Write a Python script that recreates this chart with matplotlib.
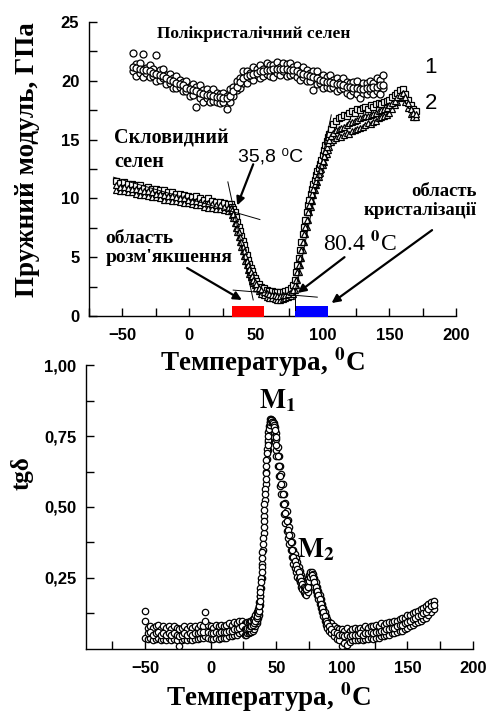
import matplotlib
matplotlib.use("Agg")
import matplotlib.pyplot as plt

# ---- top panel: elastic modulus, GPa ----
# curve 1, polycrystalline selenium
s1_t = [-42, -39.5, -37, -34.5, -32, -29.5, -27, -24.5, -22, -19.5,
        -17, -14.5, -12, -9.5, -7, -4.5, -2, 0.5, 3, 5.5,
        8, 10.5, 13, 15.5, 18, 20.5, 23, 25.5, 28, 30.5,
        33, 35.5, 38, 40.5, 43, 45.5, 48, 50.5, 53, 55.5,
        58, 60.5, 63, 65.5, 68, 70.5, 73, 75.5, 78, 80.5,
        83, 85.5, 88, 90.5, 93, 95.5, 98, 100.5, 103, 105.5,
        108, 110.5, 113, 115.5, 118, 120.5, 123, 125.5, 128, 130.5,
        133, 135.5, 138, 140.5, 143, 145.5]
s1_mid = [21.2, 21.1, 21.0, 20.9, 20.9, 20.8, 20.7, 20.6, 20.5, 20.4,
          20.2, 20.1, 20.0, 19.8, 19.7, 19.6, 19.4, 19.3, 19.2, 19.1,
          19.0, 18.9, 18.8, 18.8, 18.7, 18.6, 18.6, 18.5, 18.5, 18.7,
          19.1, 19.5, 19.9, 20.2, 20.4, 20.5, 20.6, 20.7, 20.8, 20.8,
          20.9, 20.9, 21.0, 21.0, 21.0, 21.0, 21.0, 20.9, 20.9, 20.8,
          20.7, 20.6, 20.5, 20.4, 20.3, 20.2, 20.1, 20.0, 19.9, 19.9,
          19.8, 19.7, 19.7, 19.6, 19.5, 19.5, 19.4, 19.4, 19.3, 19.3,
          19.4, 19.4, 19.5, 19.5, 19.6, 19.6]
s1_hi = [22.4, 21.4, 21.5, 22.3, 21.1, 21.3, 21.0, 22.2, 20.9, 21.0,
         20.5, 20.6, 20.2, 20.4, 20.1, 19.9, 20.0, 19.5, 19.7, 19.5,
         19.6, 19.2, 19.3, 19.0, 19.3, 19.0, 18.9, 19.0, 18.7, 19.3,
         19.5, 20.0, 20.2, 20.8, 20.8, 20.7, 21.2, 21.0, 21.3, 21.0,
         21.5, 21.3, 21.3, 21.6, 21.2, 21.5, 21.4, 21.5, 21.2, 21.3,
         20.9, 21.2, 20.9, 20.7, 20.8, 20.8, 20.3, 20.5, 20.3, 20.5,
         20.1, 20.2, 19.9, 20.2, 19.9, 19.8, 19.9, 20.0, 19.5, 19.8,
         19.8, 20.0, 19.8, 20.2, 20.1, 20.5]
s1_lo = [20.8, 20.4, 20.7, 20.3, 20.7, 20.3, 20.4, 20.0, 20.1, 20.2,
         19.7, 19.8, 19.4, 19.4, 19.5, 19.1, 19.1, 18.7, 18.8, 17.8,
         18.5, 18.2, 18.5, 18.2, 18.3, 18.2, 18.1, 18.2, 17.6, 18.2,
         18.7, 19.2, 19.4, 19.8, 19.8, 20.2, 20.1, 20.5, 20.2, 20.4,
         20.6, 20.4, 20.3, 20.7, 20.5, 20.8, 20.4, 20.5, 20.6, 20.3,
         20.1, 20.3, 20.0, 20.0, 19.2, 19.7, 19.8, 19.4, 19.5, 19.4,
         19.5, 19.1, 19.3, 19.4, 19.0, 18.8, 19.1, 18.9, 18.5, 19.0,
         18.9, 19.1, 18.9, 19.1, 18.9, 19.4]

# curve 2, glassy selenium
s2_t = [-55, -52, -49, -46, -43, -40, -37, -34, -31, -28,
        -25, -22, -19, -16, -13, -10, -7, -4, -1, 2,
        5, 8, 11, 14, 17, 20, 23, 26, 29,
        31, 32, 33, 34, 35, 36, 37, 38, 39, 40,
        41, 42, 43, 44, 45, 46, 47, 48, 49, 50,
        52, 54, 56, 58, 60, 62, 64, 66, 68, 70, 72, 74, 76,
        78, 79, 80, 81, 82, 83, 84, 85, 86, 87,
        88, 89, 90, 91, 92, 93, 94, 95, 96, 97,
        98, 99, 100, 101, 102, 103, 104, 105,
        106, 108, 110, 112, 114, 116, 118, 120, 122, 124,
        126, 128, 130, 132, 134, 136, 138, 140, 142, 144,
        146, 148, 150, 152, 154, 156, 158, 160, 162, 164,
        166, 168, 170]
s2_mid = [11.1, 11.0, 11.0, 10.9, 10.8, 10.8, 10.7, 10.6, 10.6, 10.5,
          10.4, 10.4, 10.3, 10.2, 10.2, 10.1, 10.0, 10.0, 9.9, 9.8,
          9.8, 9.7, 9.6, 9.6, 9.5, 9.4, 9.4, 9.3, 9.2,
          9.2, 9.0, 8.7, 8.3, 7.9, 7.5, 7.1, 6.7, 6.3, 5.9,
          5.5, 5.1, 4.7, 4.3, 4.0, 3.7, 3.4, 3.1, 2.9, 2.7,
          2.4, 2.2, 2.05, 1.95, 1.85, 1.8, 1.75, 1.7, 1.7, 1.75, 1.8, 1.9, 2.0,
          2.2, 2.6, 3.1, 3.7, 4.3, 4.9, 5.6, 6.3, 7.0, 7.6,
          8.2, 8.8, 9.4, 9.9, 10.4, 10.8, 11.2, 11.5, 11.8, 12.1,
          12.4, 12.8, 13.2, 13.6, 14.0, 14.4, 14.7, 15.0,
          15.3, 15.6, 15.8, 15.9, 16.0, 16.1, 16.2, 16.4, 16.5, 16.6,
          16.7, 16.8, 16.9, 17.0, 17.0, 17.1, 17.2, 17.3, 17.4, 17.5,
          17.6, 17.7, 17.9, 18.1, 18.3, 18.6, 18.8, 19.0, 18.6, 18.1,
          17.6, 17.3, 17.2]
s2_hi = [11.5, 11.3, 11.4, 11.2, 11.2, 11.1, 11.1, 10.9, 11.0, 10.8,
         10.8, 10.7, 10.7, 10.5, 10.5, 10.4, 10.4, 10.3, 10.2, 10.1,
         10.2, 10.0, 9.9, 10.0, 9.8, 9.7, 9.7, 9.6, 9.5,
         9.5, 9.3, 9.1, 8.8, 8.4, 8.0, 7.6, 7.2, 6.8, 6.4,
         6.0, 5.6, 5.2, 4.8, 4.4, 4.1, 3.8, 3.5, 3.2, 3.0,
         2.7, 2.5, 2.35, 2.25, 2.15, 2.1, 2.05, 2.0, 2.0, 2.05, 2.1, 2.2, 2.35,
         2.6, 3.1, 3.7, 4.3, 4.9, 5.6, 6.3, 7.0, 7.6, 8.2,
         8.8, 9.4, 9.9, 10.4, 10.8, 11.2, 11.6, 12.0, 12.3, 12.6,
         12.9, 13.3, 13.7, 14.1, 14.5, 14.9, 15.2, 15.5,
         15.9, 16.3, 16.6, 16.8, 16.9, 17.1, 17.0, 17.3, 17.4, 17.3,
         17.6, 17.5, 17.7, 17.8, 17.6, 17.9, 17.8, 18.0, 18.1, 18.0,
         18.2, 18.3, 18.4, 18.6, 18.8, 19.0, 19.2, 19.3, 18.9, 18.4,
         17.9, 17.6, 17.4]
s2_lo = [10.7, 10.6, 10.6, 10.5, 10.5, 10.4, 10.3, 10.3, 10.2, 10.1,
         10.1, 10.0, 9.9, 9.9, 9.8, 9.8, 9.7, 9.6, 9.6, 9.5,
         9.4, 9.4, 9.3, 9.2, 9.2, 9.1, 9.1, 9.0, 8.9,
         8.9, 8.6, 8.3, 7.9, 7.5, 7.1, 6.7, 6.3, 5.9, 5.5,
         5.1, 4.7, 4.3, 3.9, 3.6, 3.3, 3.0, 2.8, 2.6, 2.4,
         2.1, 1.9, 1.75, 1.65, 1.55, 1.5, 1.45, 1.4, 1.4, 1.45, 1.5, 1.6, 1.7,
         1.9, 2.2, 2.6, 3.1, 3.7, 4.3, 4.9, 5.6, 6.3, 7.0,
         7.6, 8.2, 8.8, 9.3, 9.8, 10.3, 10.7, 11.1, 11.4, 11.8,
         12.2, 12.5, 12.8, 13.1, 13.5, 13.8, 14.1, 14.4,
         14.8, 15.0, 15.1, 15.3, 15.2, 15.4, 15.6, 15.5, 15.7, 15.8,
         15.9, 16.0, 16.1, 16.2, 16.4, 16.3, 16.5, 16.6, 16.8, 16.9,
         17.0, 17.1, 17.3, 17.6, 17.9, 18.2, 18.5, 18.6, 18.2, 17.7,
         17.2, 16.9, 16.9]

# tangent lines
tan_x = [[-56.7, 53], [29, 48], [33, 96], [106.5, 79.1], [79.1, 79.1]]
tan_y = [[11.8, 8.2], [11.4, 1.36], [2.2, 1.6], [17.1, 1.9], [1.9, 0.5]]

# softening / crystallisation zones
zone_start = [32, 79]
zone_end = [56, 104]
zone_colors = ['#ff0000', '#0000ff']

# ---- bottom panel: tg delta ----
s3_t = [-50, -48, -46, -44, -42, -40, -38, -36, -34, -32,
        -30, -28, -26, -24, -22, -20, -18, -16, -14, -12,
        -10, -8, -6, -4, -2, 0, 2, 4, 6, 8,
        10, 12, 14, 16, 18, 20, 22, 24,
        26, 27, 28, 29, 30, 31, 32, 33, 34, 35,
        35.5, 36, 36.5, 37, 37.5, 38, 38.5, 39, 39.5, 40,
        40.5, 41, 41.5, 42, 42.5, 43, 43.5, 44, 44.5, 45,
        45.5, 46, 46.5, 47, 47.5, 48, 48.5, 49, 49.5, 50,
        51, 52, 53, 54, 55, 56, 57, 58, 59, 60,
        61, 62, 63, 64, 65, 66, 67, 68, 69, 70,
        71, 72, 73, 74, 75, 76, 77, 78, 79, 80,
        81, 82, 83, 84, 85, 86, 87, 88, 89, 90,
        92, 94, 96, 98, 100, 102, 104, 106, 108, 110,
        112, 114, 116, 118, 120, 122, 124, 126, 128, 130,
        132, 134, 136, 138, 140, 142, 144, 146, 148, 150,
        152, 154, 156, 158, 160, 162, 164, 166, 168, 170]
s3_mid = [0.10, 0.055, 0.06, 0.05, 0.055, 0.06, 0.05, 0.055, 0.05, 0.055,
          0.05, 0.055, 0.05, 0.045, 0.05, 0.055, 0.05, 0.055, 0.05, 0.055,
          0.055, 0.06, 0.06, 0.10, 0.06, 0.055, 0.055, 0.06, 0.055, 0.06,
          0.06, 0.06, 0.065, 0.065, 0.07, 0.07, 0.075, 0.08,
          0.07, 0.07, 0.075, 0.075, 0.08, 0.08, 0.085, 0.09, 0.10, 0.11,
          0.115, 0.125, 0.135, 0.15, 0.17, 0.20, 0.235, 0.27, 0.32, 0.37,
          0.43, 0.49, 0.545, 0.60, 0.645, 0.69, 0.72, 0.75, 0.775, 0.79,
          0.80, 0.805, 0.80, 0.80, 0.795, 0.79, 0.78, 0.77, 0.745, 0.72,
          0.68, 0.645, 0.61, 0.58, 0.545, 0.51, 0.48, 0.45, 0.42, 0.40,
          0.375, 0.35, 0.325, 0.31, 0.295, 0.28, 0.27, 0.255, 0.24, 0.23,
          0.22, 0.215, 0.21, 0.22, 0.24, 0.255, 0.26, 0.25, 0.235, 0.22,
          0.205, 0.19, 0.175, 0.16, 0.145, 0.13, 0.115, 0.10, 0.09, 0.08,
          0.07, 0.06, 0.055, 0.05, 0.05, 0.045, 0.05, 0.045, 0.05, 0.05,
          0.05, 0.055, 0.05, 0.055, 0.055, 0.06, 0.055, 0.06, 0.06, 0.065,
          0.065, 0.07, 0.07, 0.075, 0.075, 0.08, 0.085, 0.085, 0.09, 0.095,
          0.10, 0.105, 0.11, 0.115, 0.12, 0.125, 0.13, 0.14, 0.15, 0.155]
s3_hi = [0.135, 0.075, 0.08, 0.075, 0.08, 0.085, 0.07, 0.08, 0.075, 0.08,
         0.07, 0.08, 0.075, 0.07, 0.075, 0.08, 0.07, 0.08, 0.075, 0.08,
         0.075, 0.085, 0.08, 0.13, 0.085, 0.08, 0.075, 0.085, 0.08, 0.085,
         0.08, 0.085, 0.09, 0.085, 0.095, 0.09, 0.10, 0.10,
         0.09, 0.09, 0.095, 0.095, 0.10, 0.10, 0.105, 0.11, 0.12, 0.13,
         0.13, 0.14, 0.15, 0.165, 0.185, 0.215, 0.25, 0.29, 0.34, 0.39,
         0.45, 0.51, 0.565, 0.62, 0.665, 0.705, 0.735, 0.765, 0.785, 0.80,
         0.81, 0.81, 0.805, 0.805, 0.80, 0.795, 0.79, 0.78, 0.76, 0.74,
         0.71, 0.68, 0.645, 0.615, 0.58, 0.545, 0.515, 0.485, 0.455, 0.43,
         0.40, 0.375, 0.35, 0.335, 0.32, 0.305, 0.29, 0.275, 0.26, 0.25,
         0.24, 0.235, 0.235, 0.245, 0.26, 0.27, 0.27, 0.265, 0.25, 0.235,
         0.22, 0.205, 0.19, 0.175, 0.16, 0.145, 0.13, 0.115, 0.105, 0.095,
         0.09, 0.08, 0.075, 0.07, 0.07, 0.065, 0.075, 0.065, 0.07, 0.075,
         0.07, 0.075, 0.07, 0.08, 0.075, 0.08, 0.08, 0.085, 0.08, 0.09,
         0.085, 0.09, 0.095, 0.095, 0.10, 0.10, 0.105, 0.11, 0.11, 0.12,
         0.12, 0.125, 0.13, 0.135, 0.14, 0.145, 0.15, 0.16, 0.165, 0.17]
s3_lo = [0.04, 0.035, 0.04, 0.03, 0.035, 0.04, 0.03, 0.035, 0.03, 0.04,
         0.03, 0.035, 0.03, 0.01, 0.03, 0.035, 0.03, 0.035, 0.03, 0.035,
         0.035, 0.04, 0.04, 0.045, 0.04, 0.035, 0.035, 0.04, 0.035, 0.04,
         0.04, 0.04, 0.045, 0.045, 0.05, 0.05, 0.055, 0.06,
         0.05, 0.05, 0.055, 0.055, 0.06, 0.06, 0.065, 0.07, 0.08, 0.09,
         0.10, 0.11, 0.12, 0.135, 0.155, 0.185, 0.215, 0.25, 0.30, 0.35,
         0.41, 0.47, 0.525, 0.58, 0.625, 0.67, 0.70, 0.73, 0.755, 0.77,
         0.785, 0.79, 0.785, 0.78, 0.77, 0.76, 0.745, 0.73, 0.70, 0.68,
         0.645, 0.61, 0.575, 0.545, 0.51, 0.475, 0.445, 0.415, 0.39, 0.37,
         0.35, 0.325, 0.30, 0.285, 0.27, 0.255, 0.245, 0.235, 0.22, 0.21,
         0.20, 0.195, 0.19, 0.20, 0.22, 0.235, 0.245, 0.235, 0.22, 0.205,
         0.19, 0.175, 0.16, 0.145, 0.13, 0.115, 0.10, 0.085, 0.075, 0.065,
         0.055, 0.045, 0.035, 0.03, 0.01, 0.02, 0.015, 0.025, 0.03, 0.03,
         0.03, 0.035, 0.03, 0.035, 0.035, 0.04, 0.035, 0.04, 0.04, 0.045,
         0.045, 0.05, 0.05, 0.055, 0.055, 0.06, 0.065, 0.065, 0.07, 0.075,
         0.08, 0.085, 0.09, 0.095, 0.10, 0.105, 0.11, 0.12, 0.13, 0.14]

SERIF = ['Liberation Serif', 'DejaVu Serif']
SANS = ['Liberation Sans', 'DejaVu Sans']

plt.rcParams['font.family'] = SANS
plt.rcParams['font.weight'] = 'bold'

fig = plt.figure(figsize=(4.92, 7.16), dpi=100)
ax1 = fig.add_axes([0.181, 0.5587, 0.746, 0.4106])
ax2 = fig.add_axes([0.1748, 0.0936, 0.7866, 0.3966])


def style_axis(ax):
    for s in ['top', 'right']:
        ax.spines[s].set_visible(False)
    for s in ['left', 'bottom']:
        ax.spines[s].set_linewidth(1.0)
    ax.tick_params(which='both', direction='in', length=6, width=1.0,
                   labelsize=12)
    ax.tick_params(axis='x', which='both', pad=9)
    ax.tick_params(axis='y', which='both', pad=7)
    for lab in ax.get_xticklabels() + ax.get_yticklabels():
        lab.set_fontweight('bold')


mk1 = dict(ls='none', marker='o', ms=5, mfc='white', mec='black', mew=0.9)
mk2 = dict(ls='none', marker='^', ms=5, mfc='white', mec='black', mew=0.9)
mk2s = dict(ls='none', marker='s', ms=3.8, mfc='white', mec='black', mew=0.9)

# top panel
for i in range(len(zone_start)):
    ax1.bar(zone_start[i], 0.95, width=zone_end[i] - zone_start[i],
            bottom=-0.1, align='edge', color=zone_colors[i], zorder=4,
            clip_on=False)

ax1.plot(s1_t, s1_lo, **mk1)
ax1.plot(s1_t, s1_hi, **mk1)
ax1.plot(s1_t, s1_mid, **mk1)

ax1.plot(s2_t, s2_lo, **mk2)
ax1.plot(s2_t, s2_hi, **mk2s)
ax1.plot(s2_t, s2_mid, **mk2)

for xs, ys in zip(tan_x, tan_y):
    ax1.plot(xs, ys, color='black', lw=0.7, zorder=5)

ax1.set_xlim(-75, 200)
ax1.set_ylim(0, 25)
ax1.set_xticks([-50, 0, 50, 100, 150, 200])
ax1.set_xticks([-75, -25, 25, 75, 125, 175], minor=True)
ax1.set_yticks([0, 5, 10, 15, 20, 25])
ax1.set_yticks([2.5, 7.5, 12.5, 17.5, 22.5], minor=True)
style_axis(ax1)

ax1.text(-23.9, 24.0, 'Полікристалічний селен', family=SERIF,
         weight='bold', fontsize=12.5, ha='left', va='center')
ax1.text(181, 21.1, '1', family=SANS, weight='normal', fontsize=16,
         ha='center', va='center', clip_on=False)
ax1.text(181, 18.1, '2', family=SANS, weight='normal', fontsize=16,
         ha='center', va='center', clip_on=False)
ax1.text(-56, 14.1, 'Скловидний\nселен', family=SERIF, weight='bold',
         fontsize=14.5, ha='left', va='center', linespacing=1.25)
ax1.text(-62.7, 5.74, "область\nрозм'якшення", family=SERIF,
         weight='bold', fontsize=14, ha='left', va='center',
         linespacing=1.15, clip_on=False)
ax1.text(215.7, 9.8, 'область\nкристалізації', family=SERIF,
         weight='bold', fontsize=13.5, ha='right', va='center',
         multialignment='right', linespacing=1.15, clip_on=False)
ax1.text(36.6, 13.5, '35,8 ⁰C', family=SANS, weight='normal',
         fontsize=14, ha='left', va='center')
ax1.text(100, 6.2, r'80.4 $^{0}$C', family=SERIF, weight='normal',
         fontsize=17, ha='left', va='center', math_fontfamily='stix')

arrow = dict(arrowstyle='-|>', color='black', lw=1.6, mutation_scale=12,
             shrinkA=0, shrinkB=0)
ax1.annotate('', xy=(36, 9.4), xytext=(48, 12.9), arrowprops=arrow)
ax1.annotate('', xy=(39.5, 1.36), xytext=(-1.5, 4.08), arrowprops=arrow)
ax1.annotate('', xy=(81.3, 1.96), xytext=(116.4, 5.0), arrowprops=arrow)
ax1.annotate('', xy=(106.7, 1.1), xytext=(182, 7.3), arrowprops=arrow,
             annotation_clip=False)

# bottom panel
mk3 = dict(ls='none', marker='o', ms=4.6, mfc='white', mec='black', mew=0.9)
ax2.plot(s3_t, s3_lo, **mk3)
ax2.plot(s3_t, s3_hi, **mk3)
ax2.plot(s3_t, s3_mid, **mk3)

ax2.set_xlim(-95, 200)
ax2.set_ylim(0, 1.0)
ax2.set_xticks([-50, 0, 50, 100, 150, 200])
ax2.set_xticks([-75, -25, 25, 75, 125, 175], minor=True)
ax2.set_yticks([0.25, 0.5, 0.75, 1.0])
ax2.set_yticklabels(['0,25', '0,50', '0,75', '1,00'])
ax2.set_yticks([0.125, 0.375, 0.625, 0.875], minor=True)
style_axis(ax2)

ax2.text(36.6, 0.875, r'$\mathbf{M}_\mathbf{1}$', fontsize=20,
         math_fontfamily='stix', ha='left', va='center')
ax2.text(66, 0.35, r'$\mathbf{M}_\mathbf{2}$', fontsize=20,
         math_fontfamily='stix', ha='left', va='center')

# axis titles
fig.text(28 / 492, 1 - 160 / 716, 'Пружний модуль, ГПа', family=SERIF,
         weight='bold', fontsize=19.5, rotation=90, ha='center', va='center')
fig.text(262 / 492, 1 - 362 / 716, r'Температура, $^{\mathbf{0}}$C',
         family=SERIF, weight='bold', fontsize=19.5, ha='center',
         va='center', math_fontfamily='stix')
fig.text(22 / 492, 1 - 473 / 716, 'tgδ', family=SERIF, weight='bold',
         fontsize=18, rotation=90, ha='center', va='center')
fig.text(268 / 492, 1 - 697 / 716, r'Температура, $^{\mathbf{0}}$C',
         family=SERIF, weight='bold', fontsize=19.5, ha='center',
         va='center', math_fontfamily='stix')

fig.savefig('out.png', dpi=100)
